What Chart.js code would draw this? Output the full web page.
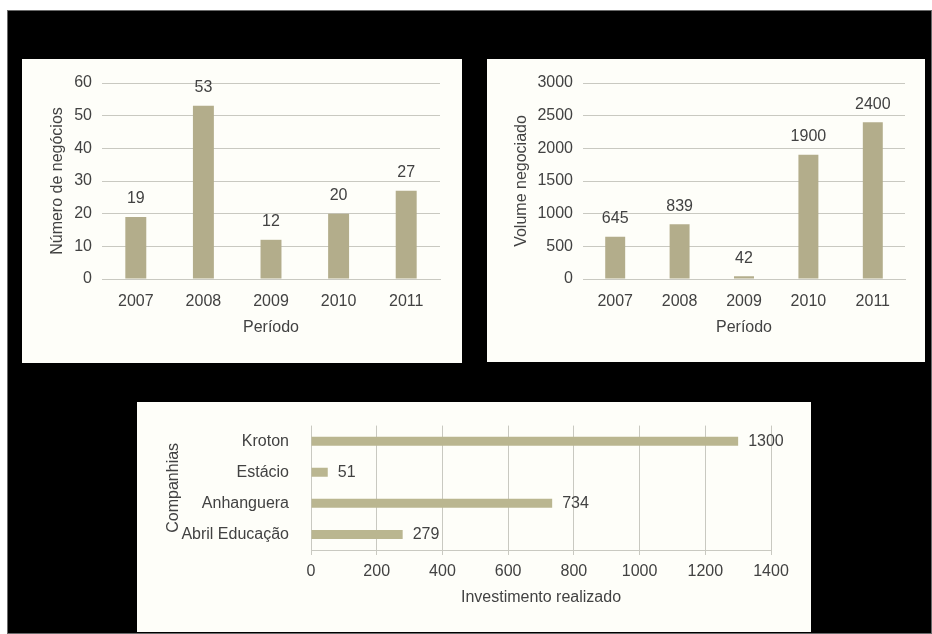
<!DOCTYPE html>
<html>
<head>
<meta charset="utf-8">
<script src="https://cdn.jsdelivr.net/npm/chart.js@4"></script>
<style>
  html, body { margin: 0; padding: 0; background: #ffffff; }
  body { width: 932px; height: 634px; position: relative; overflow: hidden; }
  #frame {
    position: absolute; left: 7px; top: 10px; width: 923px; height: 622px;
    background: #000; border: 1px solid #6a6a6a;
  }
  .panel { position: absolute; background: #fefef9; }
  .panel canvas { display: block; }
</style>
</head>
<body>
<div id="frame"></div>
<div class="panel" style="left:22px; top:59px; width:440px; height:304px;">
  <canvas id="dealsChart" width="440" height="304"></canvas>
</div>
<div class="panel" style="left:487px; top:59px; width:438px; height:303px;">
  <canvas id="volumeChart" width="438" height="303"></canvas>
</div>
<div class="panel" style="left:137px; top:402px; width:674px; height:230px;">
  <canvas id="investChart" width="674" height="230"></canvas>
</div>

<script>
// --- data ---
const periods = ['2007', '2008', '2009', '2010', '2011'];
const dealCounts = [19, 53, 12, 20, 27];
const dealVolumes = [645, 839, 42, 1900, 2400];
const companies = ['Kroton', 'Estácio', 'Anhanguera', 'Abril Educação'];
const investments = [1300, 51, 734, 279];

const textColor = '#424242';
const gridColor = '#c9c9c1';
const barColor = '#b3ad8b';
const barColorH = '#bab690';

Chart.defaults.font.family = '"Liberation Sans", Arial, sans-serif';
Chart.defaults.font.size = 16;
Chart.defaults.color = textColor;

// plain numbers, no thousands separator
const plainTick = v => String(v);

// draws the value next to each bar, reading positions from the bar elements
const valueLabels = {
  id: 'valueLabels',
  afterDatasetsDraw(chart) {
    const ctx = chart.ctx;
    const horizontal = chart.options.indexAxis === 'y';
    ctx.save();
    ctx.font = '16px "Liberation Sans", Arial, sans-serif';
    ctx.fillStyle = textColor;
    ctx.textBaseline = 'middle';
    chart.data.datasets.forEach((ds, i) => {
      chart.getDatasetMeta(i).data.forEach((bar, j) => {
        if (horizontal) {
          ctx.textAlign = 'left';
          ctx.fillText(ds.data[j], bar.x + 10, bar.y);
        } else {
          ctx.textAlign = 'center';
          ctx.fillText(ds.data[j], bar.x, bar.y - 18);
        }
      });
    });
    ctx.restore();
  }
};

function verticalChart(id, values, yTitle, yMax, yStep, yWidth, pad) {
  const ctx = document.getElementById(id).getContext('2d');
  return new Chart(ctx, {
    type: 'bar',
    data: {
      labels: periods,
      datasets: [{
        data: values,
        backgroundColor: barColor,
        borderWidth: 0,
        barPercentage: 0.31,
        categoryPercentage: 1
      }]
    },
    options: {
      responsive: false,
      animation: false,
      layout: { padding: pad },
      plugins: { legend: { display: false }, tooltip: { enabled: false } },
      scales: {
        x: {
          grid: { display: false, drawTicks: false },
          border: { display: true, color: gridColor },
          ticks: { padding: 13, color: textColor },
          title: { display: true, text: 'Período', color: textColor, font: { size: 16 } },
          afterFit: s => { s.height = 62; }
        },
        y: {
          min: 0, max: yMax,
          grid: { color: gridColor, drawTicks: false },
          border: { display: false },
          ticks: { stepSize: yStep, padding: 10, color: textColor, callback: plainTick },
          title: { display: true, text: yTitle, color: textColor, font: { size: 16 } },
          afterFit: s => { s.width = yWidth; }
        }
      }
    },
    plugins: [valueLabels]
  });
}

verticalChart('dealsChart', dealCounts, 'Número de negócios', 60, 10, 58,
  { left: 22, right: 22, top: 24, bottom: 22 });
verticalChart('volumeChart', dealVolumes, 'Volume negociado', 3000, 500, 75,
  { left: 21, right: 20, top: 24, bottom: 21 });

new Chart(document.getElementById('investChart').getContext('2d'), {
  type: 'bar',
  data: {
    labels: companies,
    datasets: [{
      data: investments,
      backgroundColor: barColorH,
      borderWidth: 0,
      barPercentage: 0.29,
      categoryPercentage: 1
    }]
  },
  options: {
    indexAxis: 'y',
    responsive: false,
    animation: false,
    layout: { padding: { left: 23, right: 40, top: 23, bottom: 21 } },
    plugins: { legend: { display: false }, tooltip: { enabled: false } },
    scales: {
      x: {
        min: 0, max: 1400,
        grid: { color: gridColor, tickLength: 5 },
        border: { display: true, color: gridColor },
        ticks: { stepSize: 200, padding: 7, color: textColor, callback: plainTick },
        title: { display: true, text: 'Investimento realizado', color: textColor, font: { size: 16 } },
        afterFit: s => { s.height = 61; }
      },
      y: {
        grid: { display: false },
        border: { display: false },
        ticks: { padding: 14, color: textColor },
        title: { display: true, text: 'Companhias', color: textColor, font: { size: 16 } },
        afterFit: s => { s.width = 151; }
      }
    }
  },
  plugins: [valueLabels]
});
</script>
</body>
</html>
